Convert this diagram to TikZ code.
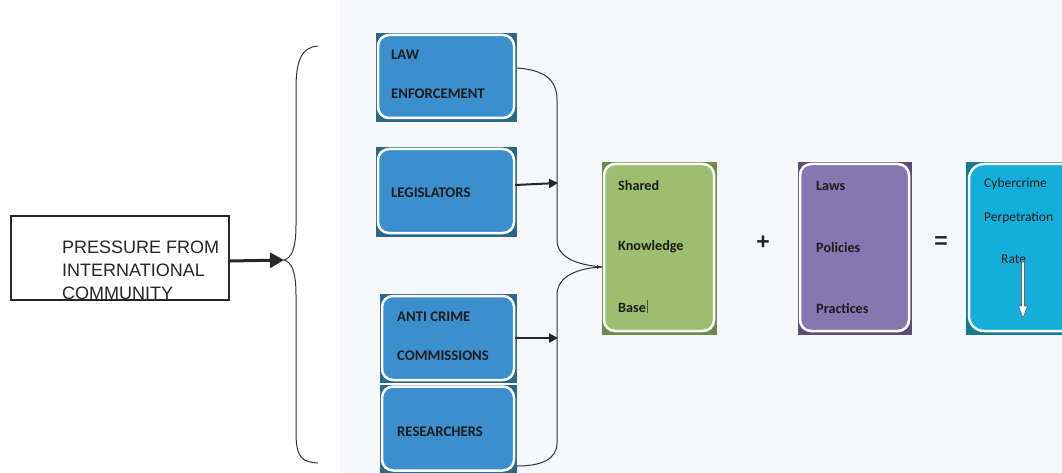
\documentclass[tikz,border=0pt]{standalone}
\usepackage{fontspec}
\setmainfont{Liberation Sans}
\newfontfamily\calfont{Carlito}
\usetikzlibrary{arrows.meta}
\definecolor{panel}{HTML}{F5F7FA}
\definecolor{bluelt}{HTML}{3B8FCD}
\definecolor{bluedk}{HTML}{2A6888}
\definecolor{greenlt}{HTML}{9DBE6E}
\definecolor{greendk}{HTML}{6C8B48}
\definecolor{purplt}{HTML}{8578B0}
\definecolor{purpdk}{HTML}{5A4E78}
\definecolor{cyanlt}{HTML}{13AEDA}
\definecolor{cyandk}{HTML}{167A8E}
\definecolor{txtdk}{HTML}{1C1C1C}
\definecolor{linegray}{HTML}{333333}
\tikzset{
  card/.style={draw=white, line width=2.5pt, rounded corners=11pt, inner sep=0pt},
  capt/.style={anchor=base west, inner sep=0pt, text=txtdk, font=\calfont\bfseries\fontsize{14.7}{14.7}\selectfont},
  capg/.style={anchor=base west, inner sep=0pt, text=txtdk, font=\calfont\bfseries\fontsize{14.2}{14.2}\selectfont},
  capc/.style={anchor=base west, inner sep=0pt, text=txtdk, font=\calfont\fontsize{13.5}{13.5}\selectfont},
  brace/.style={draw=linegray, line width=1pt},
  conn/.style={draw=black!85, line width=2pt, -{Triangle[length=9pt,width=9pt]}},
  sym/.style={inner sep=0pt, font=\bfseries\fontsize{23}{23}\selectfont, text=black!85}
}
\begin{document}
\begin{tikzpicture}[x=1pt,y=-1pt]
\useasboundingbox (0,0) rectangle (1062,473);
\fill[white] (0,0) rectangle (1062,473);
\fill[panel] (340,0) rectangle (1062,473);

% pressure box
\node[draw=black!85, line width=1.5pt, minimum width=218pt, minimum height=84pt, inner sep=0pt] (press) at (120,258) {};
\node[anchor=base west, inner sep=0pt, text=black!85, font=\fontsize{18}{18}\selectfont] (p1) at (62,253) {PRESSURE FROM};
\node[anchor=base west, inner sep=0pt, text=black!85, font=\fontsize{18}{18}\selectfont] (p2) at (62,276) {INTERNATIONAL};
\begin{scope}
\clip (11,200) rectangle (229,299);
\node[anchor=base west, inner sep=0pt, text=black!85, font=\fontsize{18}{18}\selectfont] (p3) at (62,299) {COMMUNITY};
\end{scope}
\draw[black!85, line width=1.5pt] (11,299.5) -- (229,299.5);

% left brace
\coordinate (lbt) at (318,46);
\coordinate (lbtip) at (284,260);
\coordinate (lbb) at (318,463);
\draw[brace] (lbt) .. controls (302,47) and (296,60) .. (296,88) -- (296,225)
  .. controls (296,250) and (291,258) .. (lbtip)
  .. controls (291,262) and (296,270) .. (296,295) -- (296,432)
  .. controls (296,458) and (302,462) .. (lbb);
\draw[black!85, line width=3pt, -{Triangle[length=14pt,width=15pt]}] (press.east |- 0,261) -- (lbtip);

% blue boxes
\fill[bluedk] (376,33) rectangle (517,122);
\node[card, fill=bluelt, minimum width=136pt, minimum height=83pt] (le) at (446,76.5) {};
\node[capt] (le1) at (391,60) {LAW};
\node[capt] (le2) at (391,99) {ENFORCEMENT};

\fill[bluedk] (376,147) rectangle (517,237);
\node[card, fill=bluelt, minimum width=136pt, minimum height=84pt] (leg) at (446,191) {};
\node[capt] (leg1) at (391,197) {LEGISLATORS};

\fill[bluedk] (380,294) rectangle (517,383);
\node[card, fill=bluelt, minimum width=132pt, minimum height=84pt] (ac) at (448,338) {};
\node[capt] (ac1) at (397,321) {ANTI CRIME};
\node[capt] (ac2) at (397,360) {COMMISSIONS};

\fill[bluedk] (380,385) rectangle (517,473);
\node[card, fill=bluelt, minimum width=132pt, minimum height=84pt] (res) at (448,428.5) {};
\node[capt] (res1) at (397,436) {RESEARCHERS};

% right brace
\coordinate (rbt) at (517,68);
\coordinate (rbtip) at (602,267);
\coordinate (rbb) at (517,466);
\draw[brace] (rbt) .. controls (545,70) and (557,80) .. (557,100) -- (557,240)
  .. controls (557,258) and (578,265) .. (rbtip);
\draw[brace] (rbtip) .. controls (578,268) and (557,276) .. (557,295) -- (557,443)
  .. controls (557,460) and (540,466) .. (rbb);
\draw[linegray, line width=1pt, -{Latex[length=5pt,width=4pt]}] (595,267) -- (rbtip);

% arrows into the brace
\coordinate (legend) at (558,183);
\coordinate (acend) at (558,338);
\draw[conn] (leg.east |- 0,185) -- (legend);
\draw[conn] (ac.east |- 0,338) -- (acend);

% green box
\fill[greendk] (602,162) rectangle (717,335);
\node[card, fill=greenlt, minimum width=110pt, minimum height=167pt] (skb) at (659,247.5) {};
\node[capg] (s1) at (618,190) {Shared};
\node[capg] (s2) at (618,250) {Knowledge};
\node[capg] (s3) at (618,312) {Base};
\draw[black!70, line width=0.5pt] (s3.base east) ++(1,1) -- ++(0,-13);

\node[sym] (plus) at (763,243) {+};

% purple box
\fill[purpdk] (798,162) rectangle (912,335);
\node[card, fill=purplt, minimum width=109pt, minimum height=167pt] (lpp) at (854.5,247.5) {};
\node[capg] (l1) at (816,190) {Laws};
\node[capg] (l2) at (816,252) {Policies};
\node[capg] (l3) at (816,313) {Practices};

\node[sym] (eq) at (941,243) {=};

% cyan box
\begin{scope}
\clip (0,0) rectangle (1062,473);
\fill[cyandk] (966,162) rectangle (1075,335);
\node[card, fill=cyanlt, minimum width=110pt, minimum height=167pt, rounded corners=15pt] (ccr) at (1024,247.5) {};
\end{scope}
\node[capc] (c1) at (984,187) {Cybercrime};
\node[capc] (c2) at (984,221) {Perpetration};
\node[capc] (c3) at (1001,263) {Rate};
\draw[fill=white, draw=black!60, line width=0.6pt]
  (1021.5,262) -- (1024.5,262) -- (1024.5,306) -- (1027.5,306) -- (1023,318)
  -- (1018.5,306) -- (1021.5,306) -- cycle;
\end{tikzpicture}
\end{document}
